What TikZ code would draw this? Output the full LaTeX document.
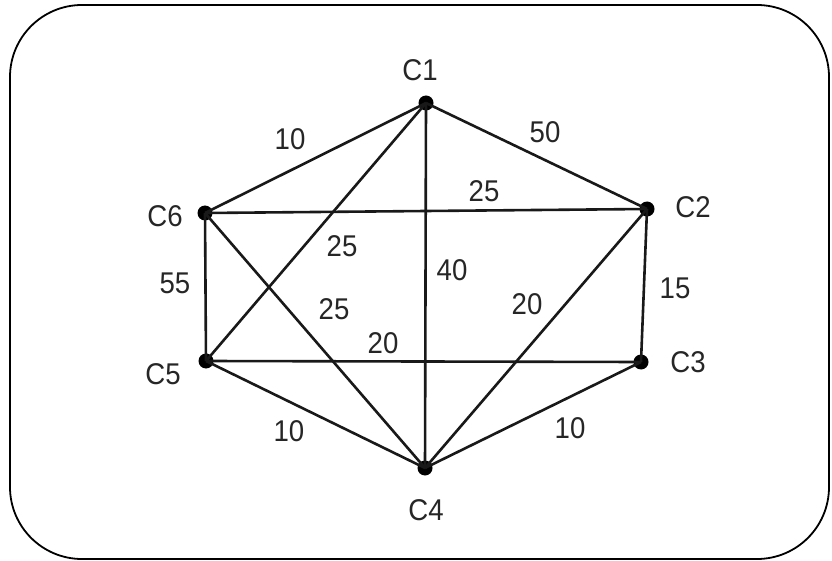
\documentclass[tikz,border=0pt]{standalone}
\usepackage{fontspec}
\setmainfont{Liberation Sans}
\begin{document}
\begin{tikzpicture}[x=1pt,y=-1pt,
  vtx/.style={circle,fill=black,inner sep=0pt,minimum size=15pt},
  lbl/.style={font=\fontsize{30}{33}\selectfont,inner sep=0pt,text=black!85,xscale=0.92},
  edge/.style={line width=2.6pt,black!90}]
\useasboundingbox (0,0) rectangle (832,561);
\draw[line width=1.8pt,rounded corners=72pt] (10,5) rectangle (829,559);
\node[vtx] (c1) at (426,103) {};
\node[vtx] (c2) at (647,209) {};
\node[vtx] (c3) at (641,362) {};
\node[vtx] (c4) at (425,468) {};
\node[vtx] (c5) at (206,361) {};
\node[vtx] (c6) at (205,213) {};
\node[lbl] (t1) at (420,70) {C1};
\node[lbl] (t2) at (693,207) {C2};
\node[lbl] (t3) at (688,362) {C3};
\node[lbl] (t4) at (426,510) {C4};
\node[lbl] (t5) at (163,374) {C5};
\node[lbl] (t6) at (165,216) {C6};
\draw[edge] (c1.center) -- (c6.center);
\draw[edge] (c1.center) -- (c2.center);
\draw[edge] (c1.center) -- (c4.center);
\draw[edge] (c1.center) -- (c5.center);
\draw[edge] (c6.center) -- (c2.center);
\draw[edge] (c6.center) -- (c5.center);
\draw[edge] (c6.center) -- (c4.center);
\draw[edge] (c2.center) -- (c3.center);
\draw[edge] (c2.center) -- (c4.center);
\draw[edge] (c5.center) -- (c3.center);
\draw[edge] (c5.center) -- (c4.center);
\draw[edge] (c3.center) -- (c4.center);
\node[lbl] (w16) at (290,139) {10};
\node[lbl] (w12) at (545,132) {50};
\node[lbl] (w62) at (484,191) {25};
\node[lbl] (w15) at (342,246) {25};
\node[lbl] (w14) at (452,270) {40};
\node[lbl] (w64) at (334,309) {25};
\node[lbl] (w53) at (383,343) {20};
\node[lbl] (w24) at (527,304) {20};
\node[lbl] (w65) at (175,283) {55};
\node[lbl] (w23) at (675,288) {15};
\node[lbl] (w54) at (289,431) {10};
\node[lbl] (w34) at (570,428) {10};
\end{tikzpicture}
\end{document}
